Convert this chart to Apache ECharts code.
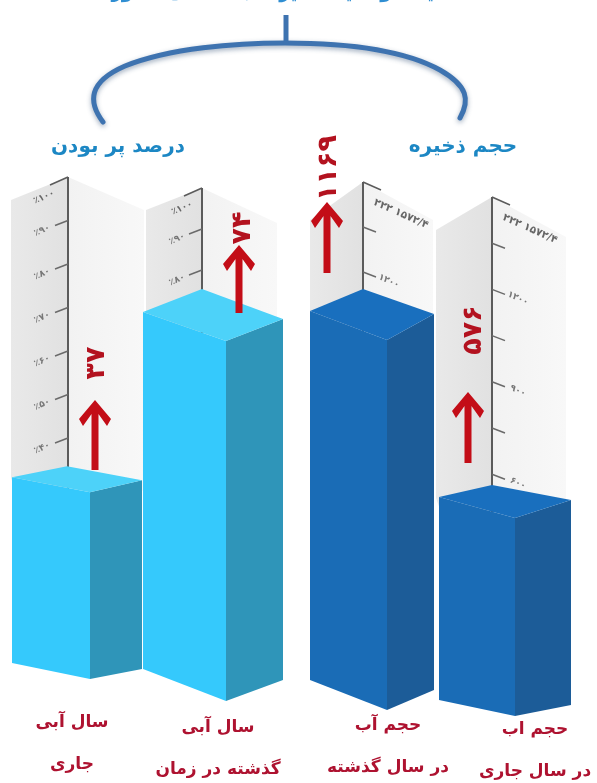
<!DOCTYPE html>
<html lang="fa">
<head>
<meta charset="utf-8">
<style>html,body{margin:0;padding:0;background:#fff}#c{width:597px;height:783px}#c canvas{filter:blur(.55px)}</style>
<script src="https://cdn.jsdelivr.net/npm/echarts@6/dist/echarts.min.js"></script>
</head>
<body>
<div id="c"></div>
<script>
// ---- data ----
const categories = ['سال آبی\nجاری', 'سال آبی\nگذشته در زمان', 'حجم آب\nدر سال گذشته', 'حجم اب\nدر سال جاری'];
const values = [37, 74, 1169, 576];
const groupTitles = ['درصد پر بودن', 'حجم ذخیره'];
const pageTitle = 'مقایسه وضعیت ذخیره آب سدهای کشور';
const percentTicks = [40, 50, 60, 70, 80, 90];
const percentTicksShort = [80, 90];
const volumeTicksPast = [1200, 1350];
const volumeTicksNow = [600, 750, 900, 1050, 1200, 1350];
const volumeLabelled = [600, 900, 1200];
const percentCap = 100;
const volumeCapValue = 1500;
const capLabelPercent = '٪۱۰۰';
const capLabelVolume = '۲۲۲ ۱۵۷۲/۴';

// ---- layout and styling (pixels, not data) ----
const LIGHT = {front: '#35c9fc', side: '#2f95b9', top: '#4dd2f9'};
const DARK = {front: '#1a6cb6', side: '#1c5c98', top: '#196fbe'};
const RED = '#c30d17';
const bars = [
  {cx: 72, base: 679, max: 100, height: 505, col: LIGHT, dxL: -60, dxF: 18, dxR: 70, dyL: 15, dyR: 12, dyB: 26, dxB: -5, baseL: 16, baseR: 10,
   arrowX: 95, arrowTip: 400, arrowEnd: 470, valX: 97, valY: 363, margin: 23},
  {cx: 218, base: 701, max: 100, height: 486.5, col: LIGHT, dxL: -75, dxF: 8, dxR: 65, dyL: 29, dyR: 22, dyB: 52, dxB: -16, baseL: 32, baseR: 21,
   arrowX: 239, arrowTip: 245, arrowEnd: 313, valX: 243, valY: 228, margin: 6},
  {cx: 388, base: 710, max: 1600, height: 506.4, col: DARK, dxL: -78, dxF: -1, dxR: 46, dyL: 29, dyR: 26, dyB: 51, dxB: -25, baseL: 30, baseR: 20,
   arrowX: 327, arrowTip: 202, arrowEnd: 273, valX: 329, valY: 168, margin: -5},
  {cx: 535, base: 716, max: 1600, height: 550, col: DARK, dxL: -96, dxF: -20, dxR: 36, dyL: 21, dyR: 18, dyB: 33, dxB: -43, baseL: 16, baseR: 11,
   arrowX: 468, arrowTip: 392, arrowEnd: 463, valX: 474, valY: 330, margin: -7}
];
const walls = [
  {ax: 68, top: 177, height: 435, max: percentCap, ticks: percentTicks, labelled: percentTicks, left: [11, 200], right: [144, 210], bottomL: 478, bottomR: 490, tickDir: -1, capText: capLabelPercent, capDx: -24, capDy: 20, lDx: -26, lDy: 10},
  {ax: 202, top: 188, height: 410, max: percentCap, ticks: percentTicksShort, labelled: percentTicksShort, left: [146, 210], right: [277, 223], bottomL: 312, bottomR: 320, tickDir: -1, capText: capLabelPercent, capDx: -20, capDy: 20, lDx: -25, lDy: 10},
  {ax: 363, top: 182, height: 450, max: volumeCapValue, ticks: volumeTicksPast, labelled: [1200], left: [310, 220], right: [433, 220], bottomL: 312, bottomR: 316, tickDir: 1, capText: capLabelVolume, capDx: 38, capDy: 32, lDx: 26, lDy: 9},
  {ax: 492, top: 197, height: 462, max: volumeCapValue, ticks: volumeTicksNow, labelled: volumeLabelled, left: [436, 230], right: [566, 237], bottomL: 498, bottomR: 502, tickDir: 1, capText: capLabelVolume, capDx: 38, capDy: 32, lDx: 26, lDy: 9}
];

const faDigits = n => String(n).replace(/\d/g, d => '۰۱۲۳۴۵۶۷۸۹'[d]);
const FONT = '"DejaVu Sans", sans-serif';

function wallRender(w) {
  return function (params, api) {
    const p = api.coord([0, w.max]);
    const p0 = api.coord([0, 0]);
    const x = p[0], yTop = p[1], yBase = p0[1];
    const kids = [];
    if (params.dataIndex === 0) {
      kids.push({type: 'polygon', shape: {points: [[w.left[0], w.left[1]], [x, yTop], [x, w.bottomL + 160], [w.left[0], w.bottomL]]},
        style: {fill: {type: 'linear', x: 0, y: 0, x2: 1, y2: 0, colorStops: [{offset: 0, color: '#e9e9e9'}, {offset: 1, color: '#e1e1e1'}]}}});
      kids.push({type: 'polygon', shape: {points: [[x, yTop], [w.right[0], w.right[1]], [w.right[0], w.bottomR], [x, w.bottomR + 40]]},
        style: {fill: {type: 'linear', x: 0, y: 0, x2: 1, y2: 0, colorStops: [{offset: 0, color: '#f2f2f2'}, {offset: 1, color: '#f8f8f8'}]}}});
      kids.push({type: 'line', shape: {x1: x, y1: yTop, x2: x, y2: yBase}, style: {stroke: '#5b5b5b', lineWidth: 2}});
      kids.push({type: 'line', shape: {x1: x, y1: yTop, x2: x + w.tickDir * 18, y2: yTop + 8}, style: {stroke: '#5b5b5b', lineWidth: 1.6}});
      kids.push({type: 'text', x: x + w.capDx, y: yTop + w.capDy, rotation: w.tickDir * -0.42,
        style: {text: w.capText, font: 'bold ' + (w.tickDir > 0 ? 10.5 : 9) + 'px ' + FONT, fill: '#666', align: 'center', verticalAlign: 'middle'}});
    } else {
      const val = api.value(1);
      const y = api.coord([0, val])[1];
      kids.push({type: 'line', shape: {x1: x, y1: y, x2: x + w.tickDir * 13, y2: y + 5}, style: {stroke: '#6a6a6a', lineWidth: 1.5}});
      if (w.labelled.includes(val)) {
        const t = w.tickDir < 0 ? '٪' + faDigits(val) : faDigits(val);
        kids.push({type: 'text', x: x + w.lDx, y: y + w.lDy, rotation: w.tickDir * -0.42,
          style: {text: t, font: 'bold 9px ' + FONT, fill: '#777', align: 'center', verticalAlign: 'middle'}});
      }
    }
    return {type: 'group', children: kids};
  };
}

function barRender(b) {
  return function (params, api) {
    const v = api.value(1);
    const top = api.coord([0, v]);
    const bot = api.coord([0, 0]);
    const cx = top[0];
    const fx = cx + b.dxF, lx = cx + b.dxL, rx = cx + b.dxR, bx = cx + b.dxB;
    const yT = top[1], yB = bot[1];
    const c = b.col;
    const ax = b.arrowX, tip = b.arrowTip;
    const kids = [
      {type: 'polygon', shape: {points: [[lx, yT - b.dyL], [fx, yT], [fx, yB], [lx, yB - b.baseL]]}, style: {fill: c.front}},
      {type: 'polygon', shape: {points: [[fx, yT], [rx, yT - b.dyR], [rx, yB - b.baseR], [fx, yB]]}, style: {fill: c.side}},
      {type: 'polygon', shape: {points: [[lx, yT - b.dyL], [bx, yT - b.dyB], [rx, yT - b.dyR], [fx, yT]]}, style: {fill: c.top}},
      {type: 'polygon', shape: {points: [
        [ax - 3.5, b.arrowEnd], [ax + 3.5, b.arrowEnd], [ax + 3.5, tip + 14], [ax + 12, tip + 26],
        [ax + 16, tip + 19], [ax, tip], [ax - 16, tip + 19], [ax - 12, tip + 26], [ax - 3.5, tip + 14]
      ]}, style: {fill: RED}},
      {type: 'text', x: b.valX, y: b.valY, rotation: Math.PI / 2,
        style: {text: faDigits(v), font: 'bold 27px ' + FONT, fill: '#b3121f', align: 'center', verticalAlign: 'middle'}}
    ];
    return {type: 'group', children: kids};
  };
}

const grid = [], xAxis = [], yAxis = [], series = [];
walls.forEach((w, i) => {
  grid.push({left: w.ax - 10, width: 20, top: w.top, height: w.height, outerBoundsMode: 'none'});
  const idx = grid.length - 1;
  xAxis.push({type: 'category', gridIndex: idx, data: ['w'], show: false});
  yAxis.push({type: 'value', gridIndex: idx, min: 0, max: w.max, show: false});
  series.push({type: 'custom', xAxisIndex: idx, yAxisIndex: idx, z: 1 + i, silent: true, clip: false,
    renderItem: wallRender(w), data: [[0, w.max]].concat(w.ticks.map(t => [0, t]))});
});
bars.forEach((b, i) => {
  grid.push({left: b.cx - 60, width: 120, top: b.base - b.height, height: b.height, outerBoundsMode: 'none'});
  const idx = grid.length - 1;
  xAxis.push({type: 'category', gridIndex: idx, data: [categories[i]], axisLine: {show: false}, axisTick: {show: false},
    axisLabel: {interval: 0, margin: b.margin, fontFamily: '"DejaVu Sans"', fontWeight: 'bold', fontSize: 17, lineHeight: 42, color: '#ae1230', hideOverlap: false}});
  yAxis.push({type: 'value', gridIndex: idx, min: 0, max: b.max, show: false});
  series.push({type: 'custom', xAxisIndex: idx, yAxisIndex: idx, z: 10 + i, silent: true, clip: false,
    renderItem: barRender(b), data: [[0, values[i]]]});
});
// connector arc above the two groups
series.push({type: 'custom', coordinateSystem: 'none', z: 20, silent: true, data: [[0]],
  renderItem: function () {
    return {type: 'group', children: [
      {type: 'path', shape: {pathData: 'M103 122 C88 102 88 82 125 66 C170 48 235 43 285 43 C340 43 400 48 440 70 C468 86 470 100 460 118'},
       style: {fill: 'none', stroke: '#3e73b0', lineWidth: 5, lineCap: 'round', shadowBlur: 5, shadowColor: 'rgba(40,70,110,.45)', shadowOffsetY: 2}},
      {type: 'line', shape: {x1: 286, y1: 15, x2: 286, y2: 44}, style: {stroke: '#3e73b0', lineWidth: 5}}
    ]};
  }});

const chart = echarts.init(document.getElementById('c'), null, {renderer: 'canvas'});
chart.setOption({
  animation: false,
  backgroundColor: '#fff',
  grid, xAxis, yAxis, series,
  graphic: [
    {type: 'text', x: 288, y: 2, style: {text: pageTitle, font: 'bold 18px ' + FONT, fill: '#2f8ed2', align: 'center', verticalAlign: 'bottom'}},
    {type: 'text', x: 118, y: 147, style: {text: groupTitles[0], font: 'bold 20px ' + FONT, fill: '#1c87c4', align: 'center', verticalAlign: 'middle', shadowBlur: 3, shadowColor: 'rgba(30,90,140,.35)', shadowOffsetY: 1}},
    {type: 'text', x: 463, y: 147, style: {text: groupTitles[1], font: 'bold 20px ' + FONT, fill: '#1c87c4', align: 'center', verticalAlign: 'middle', shadowBlur: 3, shadowColor: 'rgba(30,90,140,.35)', shadowOffsetY: 1}}
  ]
});
</script>
</body>
</html>
